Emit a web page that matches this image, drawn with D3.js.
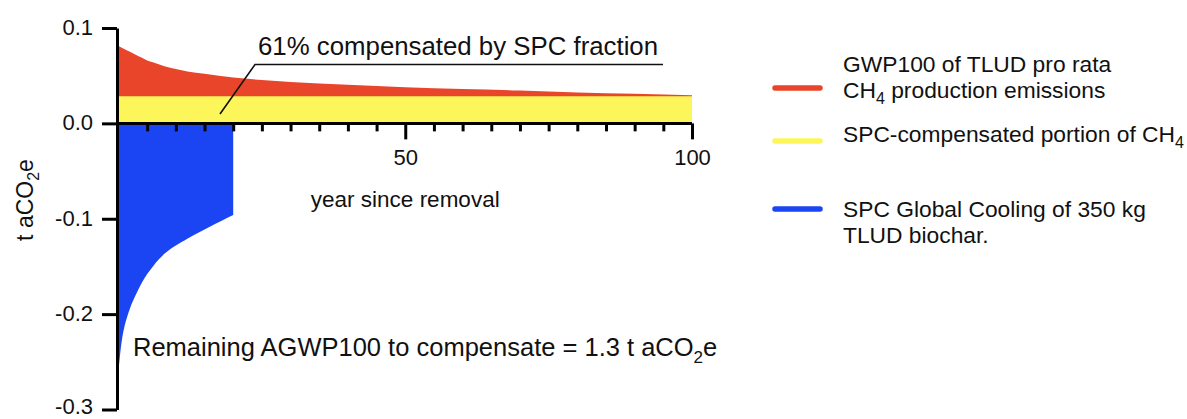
<!DOCTYPE html>
<html>
<head>
<meta charset="utf-8">
<script src="https://cdn.jsdelivr.net/npm/d3@7"></script>
<style>
body { margin: 0; background: #fff; }
svg { display: block; font-family: "Liberation Sans", Arial, Helvetica, sans-serif; }
.axis path, .axis line { stroke: #000; stroke-width: 3px; }
.axis text { font-size: 22px; fill: #111; font-family: "Liberation Sans", Arial, sans-serif; }
</style>
</head>
<body>
<div id="elements"></div>
<script>
// data
var years = [0, 1, 2, 3, 4, 5, 6, 8, 10, 12, 15, 20, 25, 30, 40, 50, 60, 70, 80, 90, 100];
var ch4Gwp = [0.081, 0.078, 0.075, 0.072, 0.069, 0.066, 0.064, 0.060, 0.057, 0.0545, 0.052, 0.048,
              0.0455, 0.0435, 0.0405, 0.038, 0.036, 0.0345, 0.0325, 0.031, 0.0295];
var compYears = [0, 100];
var compPortion = [0.0285, 0.0285];
var spcYears = [0, 0.15, 0.3, 0.55, 1, 1.5, 2, 3, 4, 5, 6, 7, 8, 9, 10, 11, 12, 14, 16, 18, 20];
var spcCooling = [-0.258, -0.250, -0.241, -0.229, -0.214, -0.203, -0.194, -0.180, -0.168, -0.158,
                  -0.150, -0.1428, -0.1368, -0.132, -0.128, -0.1245, -0.121, -0.1145, -0.108, -0.102, -0.096];
var yTicks = [-0.3, -0.2, -0.1, 0.0, 0.1];
var xTicks = [5, 10, 15, 20, 25, 30, 35, 40, 45, 50, 55, 60, 65, 70, 75, 80, 85, 90, 95, 100];
var xLabels = [50, 100];

var width = 1187, height = 419;
var svg = d3.select("#elements").append("svg")
    .attr("width", width).attr("height", height);

var x = d3.scaleLinear().domain([0, 100]).range([118.5, 692]);
var y = d3.scaleLinear().domain([-0.3, 0.1]).range([409.5, 28]);

function series(xs, ys) {
    return xs.map(function(d, i) { return {t: d, v: ys[i]}; });
}

var area = d3.area()
    .curve(d3.curveMonotoneX)
    .x(function(d) { return x(d.t); })
    .y0(function(d) { return y(0); })
    .y1(function(d) { return y(d.v); });

var g = svg.append("g");
g.append("path").datum(series(years, ch4Gwp)).attr("d", area).attr("fill", "#e9452b");
g.append("path").datum(series(compYears, compPortion)).attr("d", area).attr("fill", "#fdf65a");
g.append("path").datum(series(spcYears, spcCooling)).attr("d", area).attr("fill", "#1b45f2");

// axes (y axis line sits just left of year 0, like the original)
var yAxis = svg.append("g")
    .attr("class", "axis")
    .attr("transform", "translate(117,0)")
    .call(d3.axisLeft(y).tickValues(yTicks).tickSize(15).tickSizeOuter(0).tickPadding(9)
        .tickFormat(function(d) { return d.toFixed(1); }));
yAxis.selectAll("text").attr("dy", function(d) { return d < -0.25 ? "0.2em" : "0.3em"; });

var xAxis = svg.append("g")
    .attr("class", "axis")
    .attr("transform", "translate(0," + y(0) + ")")
    .call(d3.axisBottom(x).tickValues(xTicks).tickSize(8).tickSizeOuter(0)
        .tickFormat(function(d) { return xLabels.indexOf(d) >= 0 ? d : ""; }));
xAxis.selectAll(".tick").filter(function(d) { return xLabels.indexOf(d) >= 0; })
    .select("line").attr("y2", 16);
xAxis.selectAll("text").attr("y", 26);
xAxis.select(".domain").attr("d", "M117,0H" + x(100));

// axis titles
svg.append("text")
    .attr("x", x(50)).attr("y", 207)
    .attr("text-anchor", "middle")
    .attr("font-size", 22.5)
    .attr("fill", "#111")
    .text("year since removal");

var ylab = svg.append("text")
    .attr("transform", "translate(33,200) rotate(-90)")
    .attr("text-anchor", "middle")
    .attr("font-size", 23)
    .attr("fill", "#111");
ylab.append("tspan").text("t aCO");
ylab.append("tspan").attr("dy", 6).attr("font-size", 16).text("2");
ylab.append("tspan").attr("dy", -6).text("e");

// annotations
svg.append("text")
    .attr("x", 258).attr("y", 55)
    .attr("font-size", 25.8)
    .attr("fill", "#111")
    .text("61% compensated by SPC fraction");
svg.append("path")
    .attr("d", "M663,64.5H255L220,114")
    .attr("fill", "none").attr("stroke", "#111").attr("stroke-width", 1.6);

var rem = svg.append("text")
    .attr("x", 133).attr("y", 356)
    .attr("font-size", 25.5)
    .attr("fill", "#111");
rem.append("tspan").text("Remaining AGWP100 to compensate = 1.3 t aCO");
rem.append("tspan").attr("dy", 7).attr("font-size", 17).text("2");
rem.append("tspan").attr("dy", -7).text("e");

// legend
var legend = [
    {color: "#e9452b", ly: 88, ty: 72,
     lines: [[{t: "GWP100 of TLUD pro rata"}], [{t: "CH"}, {t: "4", sub: true}, {t: " production emissions"}]]},
    {color: "#fdf65a", ly: 141, ty: 142,
     lines: [[{t: "SPC-compensated portion of CH"}, {t: "4", sub: true}]]},
    {color: "#1b45f2", ly: 209, ty: 217,
     lines: [[{t: "SPC Global Cooling of 350 kg"}], [{t: "TLUD biochar."}]]}
];
var lg = svg.append("g");
legend.forEach(function(item) {
    lg.append("line")
        .attr("x1", 775).attr("x2", 820)
        .attr("y1", item.ly).attr("y2", item.ly)
        .attr("stroke", item.color).attr("stroke-width", 5.5)
        .attr("stroke-linecap", "round");
    item.lines.forEach(function(parts, i) {
        var t = lg.append("text")
            .attr("x", 843).attr("y", item.ty + i * 25.5)
            .attr("font-size", 22.8)
            .attr("fill", "#111");
        var shifted = false;
        parts.forEach(function(p) {
            var span = t.append("tspan").text(p.t);
            if (p.sub) {
                span.attr("dy", 6).attr("font-size", 16);
                shifted = true;
            } else if (shifted) {
                span.attr("dy", -6);
                shifted = false;
            }
        });
    });
});
</script>
</body>
</html>
